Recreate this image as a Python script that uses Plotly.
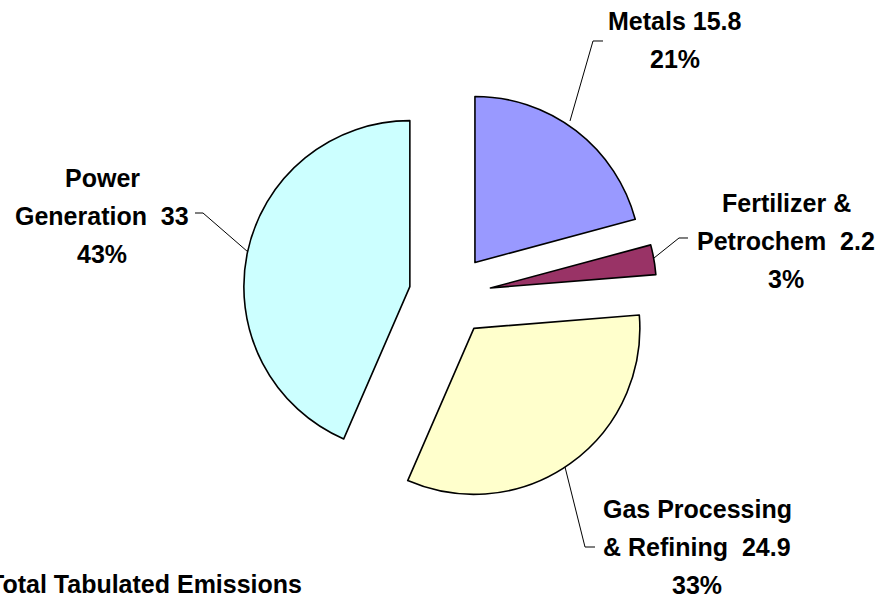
import plotly.graph_objects as go

# Emissions by source sector
categories = ["Metals", "Fertilizer & Petrochem", "Gas Processing & Refining", "Power Generation"]
values = [15.8, 2.2, 24.9, 33]
colors = ["#9999FF", "#993366", "#FFFFCC", "#CCFFFF"]

# how each data label is broken onto lines, and the gap before the value
label_heads = [["Metals"], ["Fertilizer &", "Petrochem"], ["Gas Processing", "& Refining"], ["Power", "Generation"]]
value_gaps = [" ", "\u00a0 ", "\u00a0 ", "\u00a0 "]
footer_text = "Total Tabulated Emissions"

W, H = 881, 598
FONT = "Liberation Sans, Arial, Helvetica, sans-serif"
LINE_STEP = 38


def px(x):
    return x / W


def py(y):
    return 1 - y / H


pull = 0.247
radius = 166
cx, cy = 450, 295
half = radius * (1 + pull)

fig = go.Figure(
    go.Pie(
        labels=categories,
        values=values,
        sort=False,
        direction="clockwise",
        rotation=0,
        pull=[pull] * len(values),
        marker=dict(colors=colors, line=dict(color="#000000", width=1.6)),
        textinfo="none",
        showlegend=False,
        domain=dict(x=[px(cx - half), px(cx + half)], y=[py(cy + half), py(cy - half)]),
    )
)

total = sum(values)
# label anchor: centre x and y of first line (pixels)
label_pos = [(675, 21), (786, 203), (697, 509), (102, 178)]
annotations = []
for heads, gap, v, (lx, ly) in zip(label_heads, value_gaps, values, label_pos):
    lines = heads[:-1] + [f"{heads[-1]}{gap}{v:g}", f"{round(v / total * 100)}%"]
    for i, line in enumerate(lines):
        annotations.append(dict(
            x=px(lx), y=py(ly + i * LINE_STEP), xref="paper", yref="paper",
            text=f"<b>{line}</b>", showarrow=False, xanchor="center", yanchor="middle",
            font=dict(family=FONT, size=25, color="#000000"),
        ))

annotations.append(dict(
    x=px(-13), y=py(584), xref="paper", yref="paper",
    text=f"<b>{footer_text}</b>", showarrow=False, xanchor="left", yanchor="middle",
    font=dict(family=FONT, size=25, color="#000000"),
))

# leader lines from slices to their labels
leaders = [
    [(570, 121), (593, 41), (603, 41)],
    [(654, 258), (679, 238), (688, 238)],
    [(565, 467), (585, 547), (595, 547)],
    [(248, 252), (203, 213), (195, 213)],
]
shapes = []
for pts in leaders:
    path = "M " + " L ".join(f"{px(x):.5f},{py(y):.5f}" for x, y in pts)
    shapes.append(dict(type="path", path=path, xref="paper", yref="paper",
                       line=dict(color="#000000", width=1)))

fig.update_layout(
    width=W, height=H,
    margin=dict(l=0, r=0, t=0, b=0),
    paper_bgcolor="#FFFFFF",
    plot_bgcolor="#FFFFFF",
    annotations=annotations,
    shapes=shapes,
)

fig.write_html("out.html")
